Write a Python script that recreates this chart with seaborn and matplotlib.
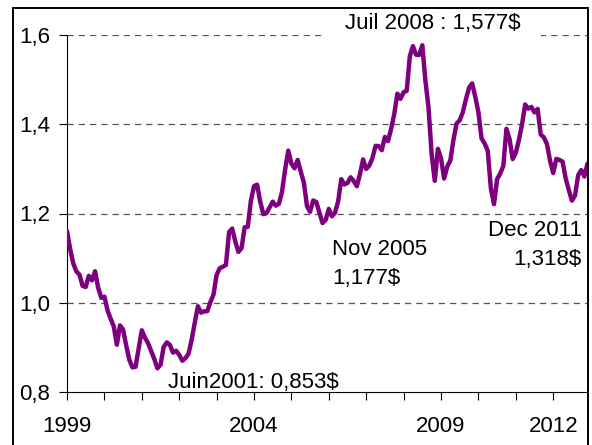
import numpy as np
import pandas as pd
import matplotlib
matplotlib.use("Agg")
import matplotlib.pyplot as plt
import seaborn as sns
from matplotlib.patches import Rectangle

# Monthly EUR/USD rate, Jan 1999 - Dec 2012
rates_1999 = [1.1608, 1.1208, 1.0883, 1.0704, 1.0628, 1.0378, 1.0353, 1.0604, 1.0501, 1.0706, 1.0338, 1.0110]
rates_2000 = [1.0137, 0.9834, 0.9643, 0.9470, 0.9060, 0.9492, 0.9397, 0.9041, 0.8721, 0.8552, 0.8564, 0.8973]
rates_2001 = [0.9383, 0.9217, 0.9095, 0.8920, 0.8742, 0.8532, 0.8607, 0.9005, 0.9111, 0.9059, 0.8883, 0.8924]
rates_2002 = [0.8833, 0.8700, 0.8758, 0.8858, 0.9170, 0.9554, 0.9922, 0.9778, 0.9808, 0.9811, 1.0014, 1.0183]
rates_2003 = [1.0622, 1.0773, 1.0807, 1.0848, 1.1582, 1.1663, 1.1372, 1.1139, 1.1222, 1.1692, 1.1702, 1.2286]
rates_2004 = [1.2613, 1.2646, 1.2262, 1.1985, 1.2007, 1.2138, 1.2266, 1.2176, 1.2218, 1.2490, 1.2991, 1.3408]
rates_2005 = [1.3119, 1.3014, 1.3201, 1.2938, 1.2694, 1.2165, 1.2037, 1.2292, 1.2256, 1.2015, 1.1786, 1.1856]
rates_2006 = [1.2103, 1.1938, 1.2020, 1.2271, 1.2770, 1.2650, 1.2684, 1.2811, 1.2727, 1.2611, 1.2881, 1.3213]
rates_2007 = [1.2999, 1.3074, 1.3242, 1.3516, 1.3511, 1.3419, 1.3716, 1.3622, 1.3896, 1.4227, 1.4684, 1.4570]
rates_2008 = [1.4718, 1.4748, 1.5527, 1.5751, 1.5557, 1.5553, 1.5770, 1.4975, 1.4370, 1.3322, 1.2732, 1.3449]
rates_2009 = [1.3239, 1.2785, 1.3050, 1.3190, 1.3650, 1.4016, 1.4088, 1.4268, 1.4562, 1.4816, 1.4914, 1.4614]
rates_2010 = [1.4272, 1.3686, 1.3569, 1.3406, 1.2565, 1.2209, 1.2770, 1.2894, 1.3067, 1.3898, 1.3661, 1.3220]
rates_2011 = [1.3360, 1.3649, 1.3999, 1.4442, 1.4349, 1.4388, 1.4264, 1.4343, 1.3770, 1.3706, 1.3556, 1.3179]
rates_2012 = [1.2905, 1.3224, 1.3201, 1.3162, 1.2789, 1.2526, 1.2288, 1.2400, 1.2856, 1.2974, 1.2828, 1.3119]

start_year = 1999
y_ticks = [0.8, 1.0, 1.2, 1.4, 1.6]
y_tick_labels = ["0,8", "1,0", "1,2", "1,4", "1,6"]
x_label_years = [1999, 2004, 2009, 2012]
x_tick_years = list(range(1999, 2013))

annot_peak = "Juil 2008 : 1,577$"
annot_low = "Juin2001: 0,853$"
annot_nov05 = "Nov 2005\n1,177$"
annot_dec11 = "Dec 2011\n1,318$"

rates = (rates_1999 + rates_2000 + rates_2001 + rates_2002 + rates_2003 + rates_2004 +
         rates_2005 + rates_2006 + rates_2007 + rates_2008 + rates_2009 + rates_2010 +
         rates_2011 + rates_2012)
df = pd.DataFrame({"t": start_year + np.arange(len(rates)) / 12.0, "rate": rates})

sns.set_style("white")
plt.rcParams["font.family"] = ["Liberation Sans", "DejaVu Sans"]
plt.rcParams["xtick.bottom"] = True
plt.rcParams["ytick.left"] = True
plt.rcParams["text.color"] = "black"
plt.rcParams["xtick.color"] = "black"
plt.rcParams["ytick.color"] = "black"

W, H = 592, 445
FS = 16
fig = plt.figure(figsize=(W / 100, H / 100), dpi=100)
ax = fig.add_axes([67 / W, 1 - 392 / H, (588 - 67) / W, (392 - 35) / H])

sns.lineplot(data=df, x="t", y="rate", ax=ax, color="#7F007F", linewidth=3.2, zorder=3)

ax.set_xlim(1999, 1999 + (588 - 67) / 37.4)
ax.set_ylim(0.8, 1.6)
ax.set_xlabel("")
ax.set_ylabel("")

ax.set_yticks(y_ticks)
ax.set_yticklabels(y_tick_labels, fontsize=FS, color="black")
ax.set_xticks(x_tick_years)
ax.set_xticklabels([str(y) if y in x_label_years else "" for y in x_tick_years], fontsize=FS, color="black")
ax.tick_params(axis="y", direction="out", length=6, width=0.8, color="black", pad=6, left=True)
ax.tick_params(axis="x", direction="out", length=6, width=0.8, color="black", pad=11, bottom=True)

for v in y_ticks[1:]:
    ax.axhline(v, color="#555555", linewidth=0.9, linestyle=(0, (5, 4)), zorder=1)

for s in ["top", "right"]:
    ax.spines[s].set_visible(False)
for s in ["left", "bottom"]:
    ax.spines[s].set_visible(True)
    ax.spines[s].set_color("black")
    ax.spines[s].set_linewidth(0.8)

ax.text(2008.79, 1.625, annot_peak, ha="center", va="center", fontsize=FS, clip_on=False,
        color="black", zorder=2, bbox=dict(facecolor="white", edgecolor="none", pad=14))
ax.text(2001.70, 0.822, annot_low, ha="left", va="center", fontsize=FS, color="black", zorder=5)
ax.text(2006.09, 1.087, annot_nov05, ha="left", va="center", fontsize=FS, linespacing=1.5,
        color="black", zorder=5)
ax.text(2012.77, 1.129, annot_dec11, ha="right", va="center", fontsize=FS, linespacing=1.5,
        multialignment="right", color="black", zorder=5)

frame = Rectangle((13 / W, -0.02), (588 - 13) / W, 1 - 8 / H + 0.02, transform=fig.transFigure,
                  fill=False, edgecolor="black", linewidth=1.4, zorder=10)
fig.add_artist(frame)

fig.savefig("out.png", dpi=100)
